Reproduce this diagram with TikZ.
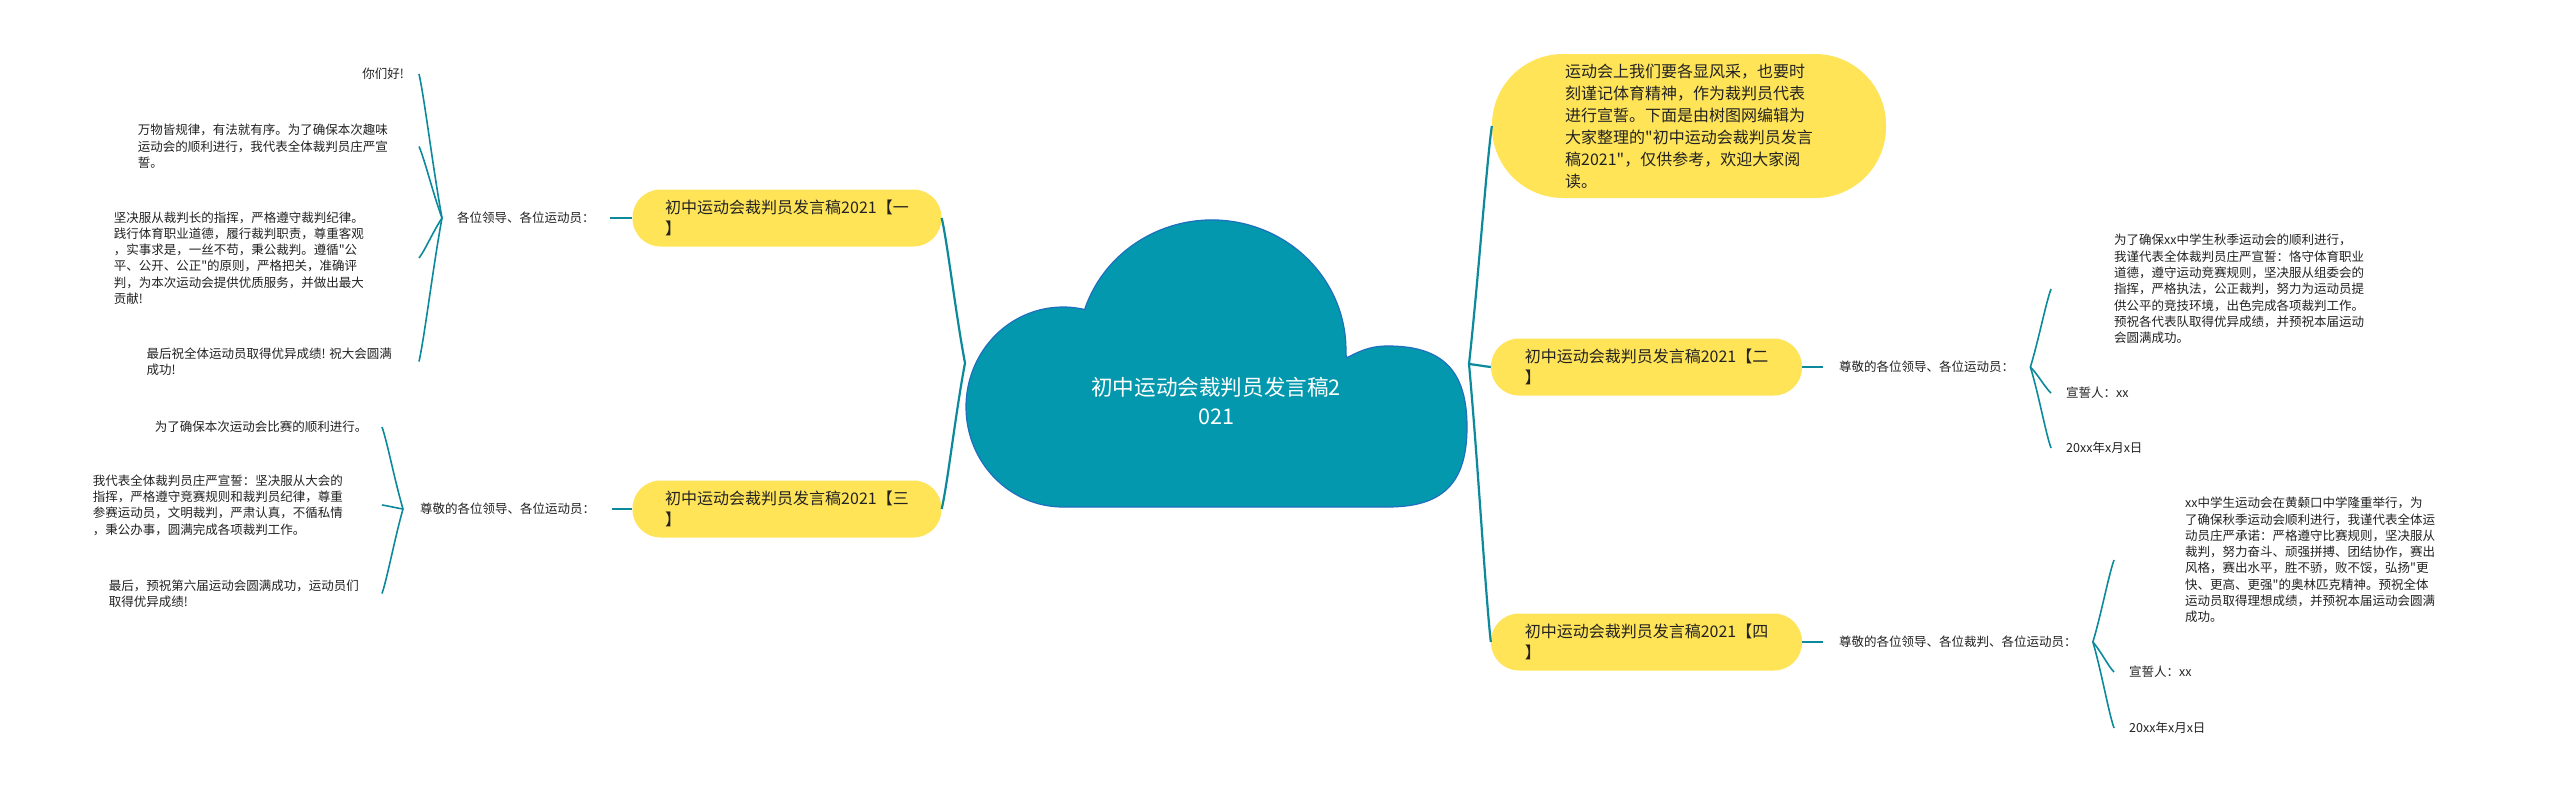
\documentclass[tikz,border=0pt]{standalone}
\usepackage{fontspec}
\setmainfont{Noto Sans CJK SC}[Ligatures=TeXOff]
\definecolor{cloudfill}{RGB}{3,152,173}
\definecolor{cloudline}{RGB}{30,112,190}
\definecolor{link}{RGB}{12,138,156}
\definecolor{yel}{RGB}{255,228,88}
\definecolor{txt}{RGB}{34,34,34}
\begin{document}
\begin{tikzpicture}[x=1pt,y=-1pt,
 topic/.style={rectangle, rounded corners=28pt, fill=yel, minimum width=309pt, minimum height=57pt, align=left, text=txt, font=\fontsize{16}{21}\selectfont, inner sep=0pt},
 leaf/.style={align=left, text=txt, font=\fontsize{12.5}{16.3}\selectfont, inner ysep=0pt},
 lab/.style={text=txt, font=\fontsize{12.5}{16.3}\selectfont, inner ysep=0pt},
 mainlink/.style={draw=link, line width=2.2pt},
 brlink/.style={draw=link, line width=1.6pt},
 stub/.style={draw=link, line width=2.5pt},
]
\fill[white] (0,0) rectangle (2560,795);
\useasboundingbox (0,0) rectangle (2560,795);

% central cloud
\filldraw[fill=cloudfill, draw=cloudline, line width=1.2pt]
 (1084.9,308.7) arc[start angle=198.5, end angle=362, x radius=134, y radius=130]
 -- (1347,357.7) .. controls (1365,348) and (1375,346) .. (1388,346)
 .. controls (1443,346) and (1467,371) .. (1467,427)
 .. controls (1467,483) and (1443,507) .. (1388,507)
 -- (1063,507) arc[start angle=90, end angle=283, x radius=97, y radius=100] -- cycle;
\node[text=white, font=\fontsize{21.6}{29}\selectfont, align=center] (root) at (1216,401.5) {初中运动会裁判员发言稿2\\021};
\coordinate (lroot) at (965,363);
\coordinate (rroot) at (1469,364);

% main topics
\node[topic] (n1) at (787,218) {初中运动会裁判员发言稿2021【一\\】};
\node[topic] (n3) at (787,509) {初中运动会裁判员发言稿2021【三\\】};
\node[topic, minimum width=394pt, minimum height=144pt, rounded corners=71pt, font=\fontsize{16}{22}\selectfont] (n0) at (1689,126) {运动会上我们要各显风采，也要时\\刻谨记体育精神，作为裁判员代表\\进行宣誓。下面是由树图网编辑为\\大家整理的"初中运动会裁判员发言\\稿2021"，仅供参考，欢迎大家阅\\读。};
\node[topic, minimum width=311pt] (n2) at (1646.5,367) {初中运动会裁判员发言稿2021【二\\】};
\node[topic, minimum width=311pt] (n4) at (1646.5,642) {初中运动会裁判员发言稿2021【四\\】};

% labels
\node[lab, anchor=west, inner xsep=15pt] (l1) at (442,218) {各位领导、各位运动员：};
\node[lab, anchor=west, inner xsep=17pt] (l3) at (403,509) {尊敬的各位领导、各位运动员：};
\node[lab, anchor=west, inner xsep=16pt] (r2) at (1823,367) {尊敬的各位领导、各位运动员：};
\node[lab, anchor=west, inner xsep=16pt] (r4) at (1823,642) {尊敬的各位领导、各位裁判、各位运动员：};

% leaves left top
\node[leaf, anchor=east, inner xsep=15pt] (a1) at (419,74) {你们好!};
\node[leaf, anchor=east, inner xsep=31pt] (a2) at (419,146.5) {万物皆规律，有法就有序。为了确保本次趣味\\运动会的顺利进行，我代表全体裁判员庄严宣\\誓。};
\node[leaf, anchor=east, inner xsep=55pt] (a3) at (419,258) {坚决服从裁判长的指挥，严格遵守裁判纪律。\\践行体育职业道德，履行裁判职责，尊重客观\\，实事求是，一丝不苟，秉公裁判。遵循"公\\平、公开、公正"的原则，严格把关，准确评\\判，为本次运动会提供优质服务，并做出最大\\贡献!};
\node[leaf, anchor=east, inner xsep=27pt] (a4) at (419,361.5) {最后祝全体运动员取得优异成绩! 祝大会圆满\\成功!};

% leaves left bottom
\node[leaf, anchor=east, inner xsep=14.5pt] (b1) at (382,427) {为了确保本次运动会比赛的顺利进行。};
\node[leaf, anchor=east, inner xsep=39pt] (b2) at (382,505) {我代表全体裁判员庄严宣誓：坚决服从大会的\\指挥，严格遵守竞赛规则和裁判员纪律，尊重\\参赛运动员，文明裁判，严肃认真，不循私情\\，秉公办事，圆满完成各项裁判工作。};
\node[leaf, anchor=east, inner xsep=23pt] (b3) at (382,593.5) {最后，预祝第六届运动会圆满成功，运动员们\\取得优异成绩!};

% leaves right middle
\node[leaf, anchor=west, inner xsep=63pt] (c1) at (2051,289) {为了确保xx中学生秋季运动会的顺利进行，\\我谨代表全体裁判员庄严宣誓：恪守体育职业\\道德，遵守运动竞赛规则，坚决服从组委会的\\指挥，严格执法，公正裁判，努力为运动员提\\供公平的竞技环境，出色完成各项裁判工作。\\预祝各代表队取得优异成绩，并预祝本届运动\\会圆满成功。};
\node[leaf, anchor=west, inner xsep=15pt] (c2) at (2051,393) {宣誓人：xx};
\node[leaf, anchor=west, inner xsep=15pt] (c3) at (2051,448) {20xx年x月x日};

% leaves right bottom
\node[leaf, anchor=west, inner xsep=71pt] (d1) at (2114,560) {xx中学生运动会在黄颡口中学隆重举行，为\\了确保秋季运动会顺利进行，我谨代表全体运\\动员庄严承诺：严格遵守比赛规则，坚决服从\\裁判，努力奋斗、顽强拼搏、团结协作，赛出\\风格，赛出水平，胜不骄，败不馁，弘扬"更\\快、更高、更强"的奥林匹克精神。预祝全体\\运动员取得理想成绩，并预祝本届运动会圆满\\成功。};
\node[leaf, anchor=west, inner xsep=15pt] (d2) at (2114,672) {宣誓人：xx};
\node[leaf, anchor=west, inner xsep=15pt] (d3) at (2114,728) {20xx年x月x日};

% main connectors
\draw[mainlink] (lroot) .. controls +(-9.6,-50.9) and +(6,26.2) .. (n1.east);
\draw[mainlink] (lroot) .. controls +(-9.6,51.1) and +(6,-26.3) .. (n3.east);
\draw[mainlink] (rroot) .. controls +(9.2,-83.3) and +(-5.75,42.8) .. (n0.west);
\draw[mainlink] (rroot) .. controls +(8.8,1) and +(-5.5,-0.5) .. (n2.west);
\draw[mainlink] (rroot) .. controls +(8.8,96.6) and +(-5.5,-49.7) .. (n4.west);

% stubs
\draw[stub] (n1.west) -- (l1.east);
\draw[stub] (n3.west) -- (l3.east);
\draw[stub] (n2.east) -- (r2.west);
\draw[stub] (n4.east) -- (r4.west);

% brackets
\draw[brlink] (l1.west) .. controls +(-9.2,-50.4) and +(5.75,25.9) .. (a1.east);
\draw[brlink] (l1.west) .. controls +(-9.2,-25) and +(5.75,12.9) .. (a2.east);
\draw[brlink] (l1.west) .. controls +(-9.2,14) and +(5.75,-7.2) .. (a3.east);
\draw[brlink] (l1.west) .. controls +(-9.2,50.2) and +(5.75,-25.8) .. (a4.east);

\draw[brlink] (l3.west) .. controls +(-8.4,-28.7) and +(5.25,14.8) .. (b1.east);
\draw[brlink] (l3.west) .. controls +(-8.4,-1.4) and +(5.25,0.7) .. (b2.east);
\draw[brlink] (l3.west) .. controls +(-8.4,29.6) and +(5.25,-15.2) .. (b3.east);

\draw[brlink] (r2.east) .. controls +(8.4,-27.7) and +(-5.25,14.2) .. (c1.west);
\draw[brlink] (r2.east) .. controls +(8.4,8.75) and +(-5.25,-4.5) .. (c2.west);
\draw[brlink] (r2.east) .. controls +(8.4,28) and +(-5.25,-14.4) .. (c3.west);

\draw[brlink] (r4.east) .. controls +(8.6,-29) and +(-5.4,15) .. (d1.west);
\draw[brlink] (r4.east) .. controls +(8.6,10.2) and +(-5.4,-5.2) .. (d2.west);
\draw[brlink] (r4.east) .. controls +(8.6,29.8) and +(-5.4,-15.3) .. (d3.west);
\end{tikzpicture}
\end{document}
